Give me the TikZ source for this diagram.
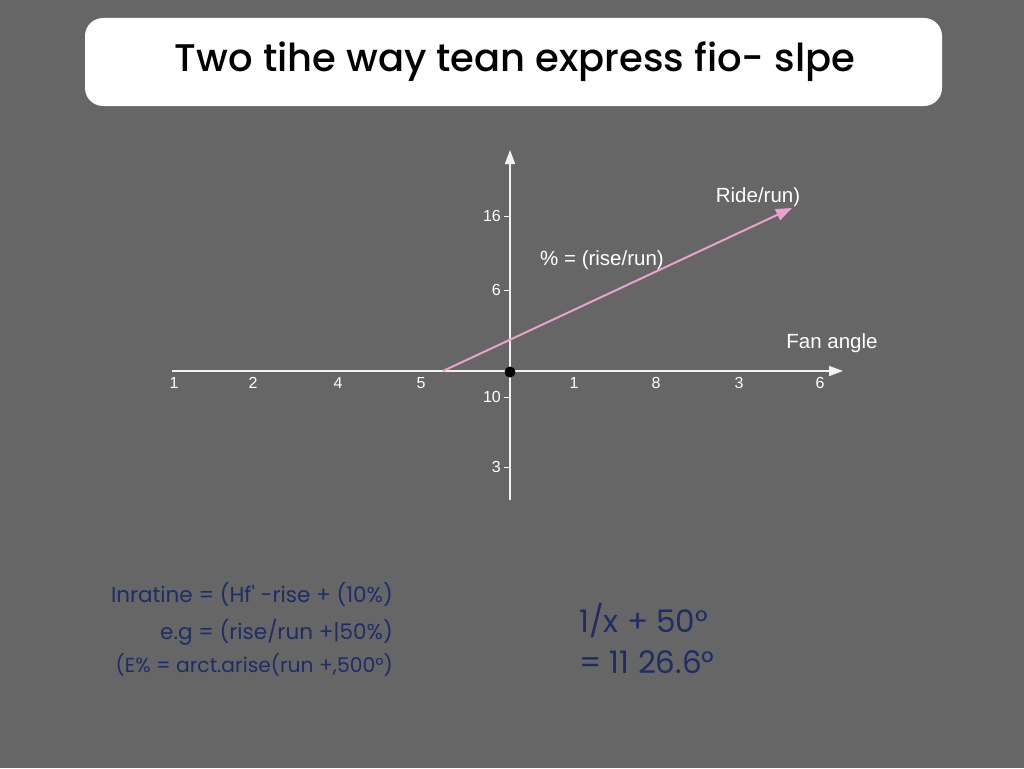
\documentclass[tikz,border=0pt]{standalone}
\usepackage{fontspec}
\setmainfont{Liberation Sans}
\newfontfamily\geo{Poppins}
\newfontfamily\geom{Poppins}[UprightFont=* Medium]
\usetikzlibrary{arrows.meta}
\definecolor{bg}{HTML}{666666}
\definecolor{pinkline}{HTML}{E8A2CC}
\definecolor{navy}{HTML}{1F2C66}
\tikzset{
  axis/.style={draw=white!95!black, line width=1.6pt, -{Triangle[length=14pt,width=10pt]}},
  tick/.style={draw=white, line width=1pt},
  ticklbl/.style={text=white, font=\fontsize{16}{18}\selectfont, inner sep=0pt},
  lbl/.style={text=white, font=\fontsize{20.5}{24}\selectfont, inner sep=0pt},
  formula/.style={text=navy, font=\geo\fontsize{21.5}{24}\selectfont, inner sep=0pt},
  bigformula/.style={text=navy, font=\geo\fontsize{31}{34}\selectfont, inner sep=0pt},
}
\begin{document}
\begin{tikzpicture}[x=1pt,y=-1pt]
\useasboundingbox (0,0) rectangle (1024,768);
\fill[bg] (0,0) rectangle (1024,768);
% title
\node[fill=white, rounded corners=18pt, minimum width=857pt, minimum height=88pt, inner sep=0pt] (titlebox) at (513.5,62) {};
\node[text=black, font=\geom\fontsize{38.5}{44}\selectfont, inner sep=0pt] (title) at (515,62) {Two tihe way tean express fio- slpe};
% axes
\coordinate (xs) at (172,371);
\coordinate (xe) at (843,371);
\coordinate (ys) at (510,500);
\coordinate (ye) at (510,150);
\draw[axis] (xs) -- (xe);
\draw[axis] (ys) -- (ye);
% y ticks
\foreach \yy/\t in {216/16,290/6,397/10,467/3}{
  \draw[tick] (504,\yy) -- (510,\yy);
  \node[ticklbl, anchor=east] at (501,\yy) {\t};
}
% x tick labels
\foreach \xx/\t in {174/1,253/2,338/4,421/5,574/1,656/8,739/3,820/6}{
  \node[ticklbl] at (\xx,383) {\t};
}
% slope line
\coordinate (ps) at (443,371);
\coordinate (pe) at (792,208);
\draw[pinkline, line width=2pt, -{Triangle[length=16pt,width=12pt]}] (ps) -- (pe);
% origin
\fill[black] (510,372) circle (5.5pt);
\node[circle, inner sep=0pt, minimum size=0pt] (origin) at (510,372) {};
% labels
\node[lbl] (pct) at (602,260) {\% = (rise/run)};
\node[lbl] (ride) at (758,197) {Ride/run)};
\node[lbl] (fan) at (832,343) {Fan angle};
% formulas
\node[formula, anchor=east] (f1) at (393,594) {Inratine = (Hf' -rise + (10\%)};
\node[formula, anchor=east] (f2) at (393,632) {e.g = (rise/run +|50\%)};
\node[formula, anchor=east, font=\geo\fontsize{20.3}{24}\selectfont] (f3) at (393,665) {(E\% = arct.arise(run +,500°)};
\node[bigformula, anchor=west] (g1) at (579,621) {1/x + 50°};
\node[bigformula, anchor=west] (g2) at (579,662) {= 11 26.6°};
\end{tikzpicture}
\end{document}
